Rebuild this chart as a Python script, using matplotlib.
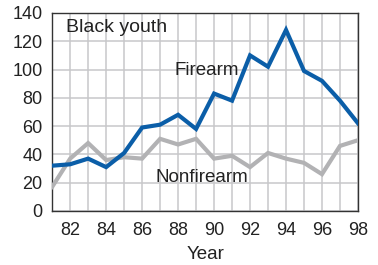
import matplotlib
matplotlib.use("Agg")
import matplotlib.pyplot as plt

plt.rcParams['font.family'] = ['Liberation Sans', 'DejaVu Sans']

# Data
years = list(range(81, 99))
firearm = [32, 33, 37, 31, 41, 59, 61, 68, 58, 83, 78, 110, 102, 128, 99, 92, 78, 62]
nonfirearm = [17, 37, 48, 36, 38, 37, 51, 47, 51, 37, 39, 31, 41, 37, 34, 26, 46, 50]
xticks = list(range(82, 99, 2))
yticks = list(range(0, 141, 20))

fig = plt.figure(figsize=(3.78, 2.65), dpi=100)
ax = fig.add_axes([0.138, 0.204, 0.809, 0.747])

ax.plot(years, nonfirearm, color="#b2b2b4", lw=3.0, solid_joinstyle="miter", zorder=3)
ax.plot(years, firearm, color="#0b5ea8", lw=3.0, solid_joinstyle="miter", zorder=4)

ax.set_xlim(81, 98)
ax.set_ylim(0, 140)
ax.set_xticks(years, minor=True)
ax.set_xticks(xticks)
ax.set_yticks(yticks)
ax.grid(True, which="both", axis="x", color="#c8c8ca", lw=1.1, zorder=1)
ax.grid(True, which="major", axis="y", color="#c8c8ca", lw=1.1, zorder=1)
ax.tick_params(which="both", length=0, labelsize=13, colors="#222222")
ax.tick_params(axis="x", pad=8)
ax.tick_params(axis="y", pad=7)
for s in ax.spines.values():
    s.set_color("#333333")
    s.set_linewidth(1.0)

ax.text(81.75, 130, "Black youth", fontsize=14, color="#222222", va="center", ha="left")
ax.text(89.6, 99.5, "Firearm", fontsize=13.5, color="#222222", va="center", ha="center")
ax.text(89.3, 23.3, "Nonfirearm", fontsize=13.5, color="#222222", va="center", ha="center")

ax.set_xlabel("Year", fontsize=13.5, color="#222222", labelpad=5)

fig.savefig("out.png", dpi=100)
